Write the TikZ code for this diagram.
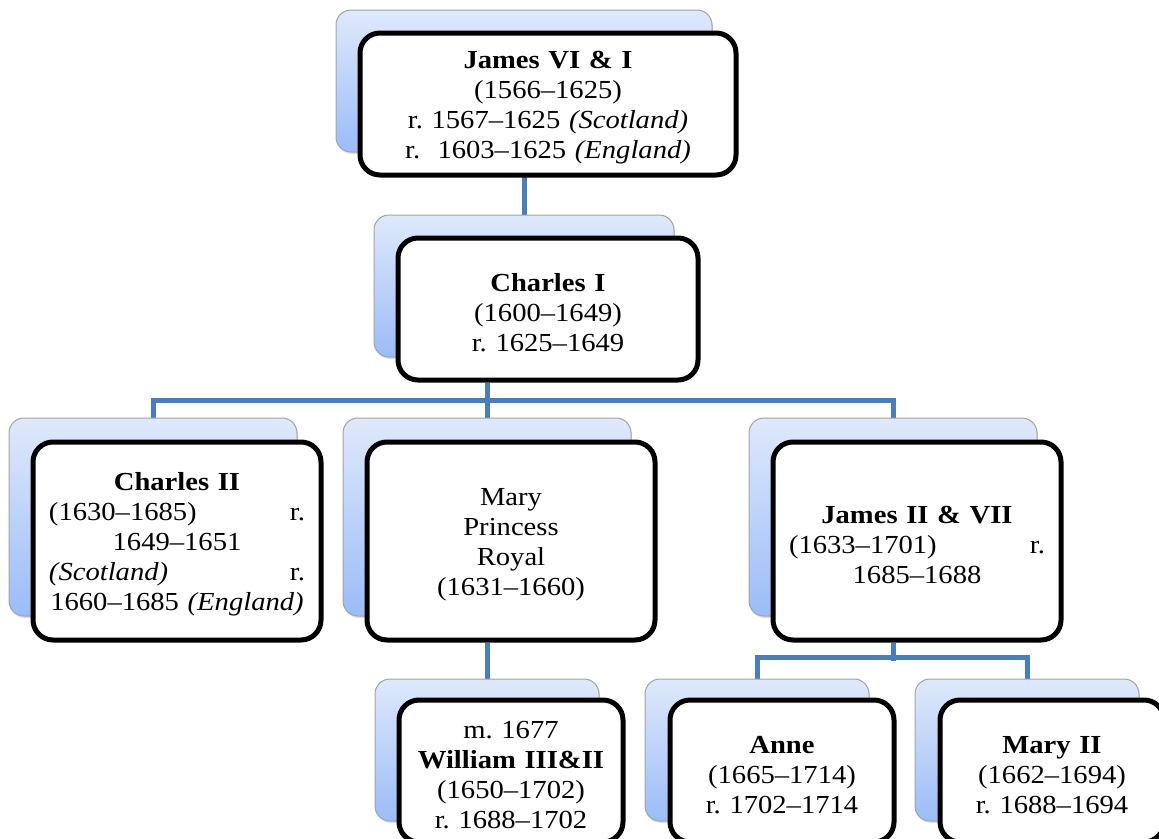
\documentclass[tikz,border=0pt]{standalone}
\usepackage{fontspec}
\setmainfont[FakeStretch=1.1]{Liberation Serif}
\usetikzlibrary{backgrounds,shadows}
\definecolor{linkblue}{HTML}{4A7EBB}
\definecolor{cardtop}{HTML}{DFE9FB}
\definecolor{cardbottom}{HTML}{9BBCF7}
\definecolor{cardedge}{HTML}{A3A3A3}
\tikzset{
  backcard/.style={draw=cardedge, line width=1pt, rounded corners=15pt,
    top color=cardtop, bottom color=cardbottom, inner sep=0pt,
    drop shadow={opacity=0.25, shadow xshift=1pt, shadow yshift=-2pt}},
  frontcard/.style={draw=black, line width=5pt, rounded corners=20pt,
    fill=white, inner sep=0pt, align=center,
    execute at begin node={\rule{0pt}{25pt}}},
  link/.style={draw=linkblue, line width=5pt}
}
\begin{document}
\begin{tikzpicture}[x=1pt, y=-1pt, font=\fontsize{26pt}{30pt}\selectfont\frenchspacing]
\clip (0,0) rectangle (1159,838);

% James VI & I
\node[backcard, minimum width=376pt, minimum height=142pt] (jamesbk) at (524,81) {};
\node[frontcard, minimum width=376pt, minimum height=142pt, text width=360pt] (james) at (548,104)
  {\textbf{James VI \& I}\\(1566–1625)\\r. 1567–1625 \textit{(Scotland)}\\r.\ \ 1603–1625 \textit{(England)}};

% Charles I
\node[backcard, minimum width=300pt, minimum height=142pt] (charlesbk) at (524,286) {};
\node[frontcard, minimum width=300pt, minimum height=142pt, text width=280pt] (charles) at (548,309)
  {\textbf{Charles I}\\(1600–1649)\\r. 1625–1649};

% Children of Charles I
\node[backcard, minimum width=288pt, minimum height=198pt] (charlesiibk) at (153,517) {};
\node[frontcard, minimum width=288pt, minimum height=198pt, text width=266pt] (charlesii) at (177,541)
  {\textbf{Charles II}\\
   \makebox[256pt]{(1630–1685)\hfill r.}\\
   1649–1651\\
   \makebox[256pt]{\textit{(Scotland)}\hfill r.}\\
   1660–1685 \textit{(England)}};

\node[backcard, minimum width=288pt, minimum height=198pt] (marybk) at (487,517) {};
\node[frontcard, minimum width=288pt, minimum height=198pt, text width=258pt] (mary) at (511,541)
  {Mary\\Princess\\Royal\\(1631–1660)};

\node[backcard, minimum width=288pt, minimum height=198pt] (jamesiibk) at (893,517) {};
\node[frontcard, minimum width=288pt, minimum height=198pt, text width=258pt] (jamesii) at (917,541)
  {\textbf{James II \& VII}\\
   \makebox[256pt]{(1633–1701)\hfill r.}\\
   1685–1688};

% Grandchildren
\node[backcard, minimum width=224pt, minimum height=142pt] (williambk) at (487,750) {};
\node[frontcard, minimum width=224pt, minimum height=142pt, text width=214pt] (william) at (511,771)
  {m. 1677\\\textbf{William III\&II}\\(1650–1702)\\r. 1688–1702};

\node[backcard, minimum width=224pt, minimum height=142pt] (annebk) at (757,750) {};
\node[frontcard, minimum width=224pt, minimum height=142pt, text width=210pt] (anne) at (782,771)
  {\textbf{Anne}\\(1665–1714)\\r. 1702–1714};

\node[backcard, minimum width=224pt, minimum height=142pt] (maryiibk) at (1027,750) {};
\node[frontcard, minimum width=224pt, minimum height=142pt, text width=210pt] (maryii) at (1052,771)
  {\textbf{Mary II}\\(1662–1694)\\r. 1688–1694};

% Connectors
\begin{scope}[on background layer]
\draw[link] (jamesbk.south) -- (charlesbk.north);
\draw[link] (charles.south -| marybk.north) -- (marybk.north);
\draw[link] (charlesiibk.north) -- ++(0,-17) -| (jamesiibk.north);
\draw[link] (jamesiibk.center |- jamesii.south) -- ++(0,18);
\draw[link] (annebk.north) -- ++(0,-21) -| (maryiibk.north);
\draw[link] (marybk.center |- mary.south) -- (williambk.north);
\end{scope}
\end{tikzpicture}
\end{document}
